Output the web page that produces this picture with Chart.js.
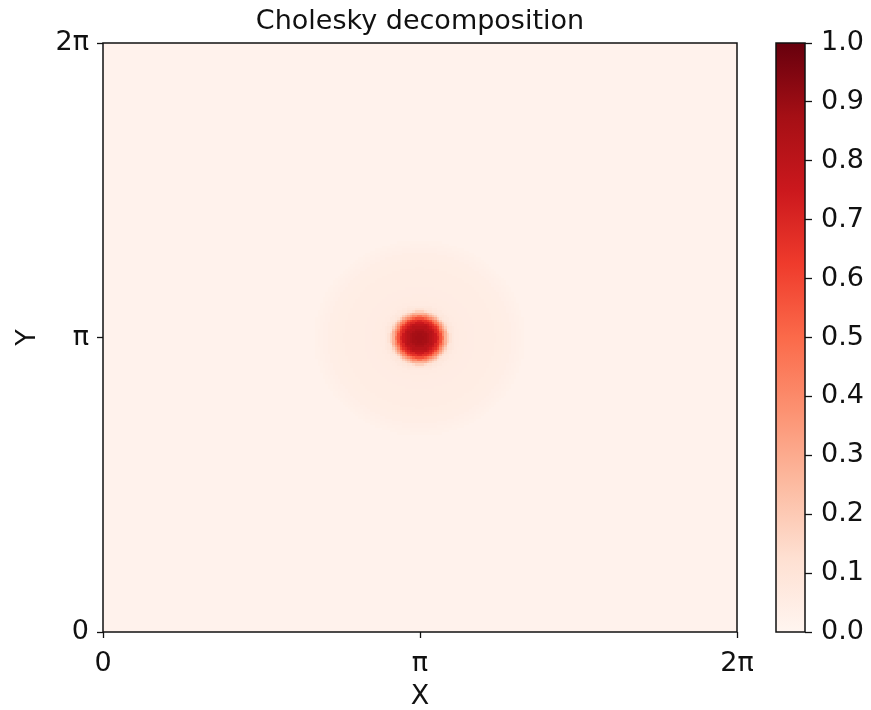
<!DOCTYPE html>
<html>
<head>
<meta charset="utf-8">
<script src="https://cdn.jsdelivr.net/npm/chart.js@4.4.1/dist/chart.umd.min.js"></script>
<style>
  html, body { margin: 0; padding: 0; background: #fff; }
  #wrap { position: relative; width: 871px; height: 710px; }
  #heatChart { position: absolute; left: 0; top: 0; }
  #barChart { position: absolute; left: 770px; top: 0; }
</style>
</head>
<body>
<div id="wrap">
  <canvas id="heatChart" width="871" height="710"></canvas>
  <canvas id="barChart" width="101" height="710"></canvas>
</div>
<script>
const TWO_PI = 2 * Math.PI;

// axis ticks (both axes run 0..2π)
const axisTicks = [0, Math.PI, TWO_PI];
const axisTickLabels = ['0', 'π', '2π'];

// peak location and its radial profile (distance in rad -> value)
const peakCentre = [Math.PI, Math.PI];
const profileRadii = [0, 0.03, 0.06, 0.09, 0.12, 0.14, 0.16, 0.18, 0.19, 0.20, 0.21, 0.22, 0.23, 0.24, 0.25,
  0.26, 0.27, 0.28, 0.29, 0.30, 0.32, 0.34, 0.37, 0.42, 0.50, 0.60, 0.70, 0.80, 0.88, 0.94, 0.98, 1.02, 1.06, 1.12];
const profileValues = [0.88, 0.88, 0.87, 0.85, 0.82, 0.79, 0.75, 0.70, 0.66, 0.62, 0.57, 0.52, 0.46, 0.40, 0.34,
  0.28, 0.23, 0.18, 0.14, 0.11, 0.085, 0.07, 0.06, 0.055, 0.052, 0.05, 0.048, 0.044, 0.04, 0.035, 0.029, 0.023, 0.018, 0.015];

// colour bar ticks
const barTicks = [0, 0.1, 0.2, 0.3, 0.4, 0.5, 0.6, 0.7, 0.8, 0.9, 1.0];

const gridSize = 256;

// matplotlib "Reds"
const redsStops = ['#fff5f0', '#fee0d2', '#fcbba1', '#fc9272', '#fb6a4a', '#ef3b2c', '#cb181d', '#a50f15', '#67000d'];

const textColor = '#111';
const fontFamily = "'DejaVu Sans', sans-serif";

function hexToRgb(h) {
  return [parseInt(h.slice(1, 3), 16), parseInt(h.slice(3, 5), 16), parseInt(h.slice(5, 7), 16)];
}
const redsRgb = redsStops.map(hexToRgb);

function reds(v) {
  const t = Math.min(1, Math.max(0, v)) * (redsRgb.length - 1);
  const i = Math.min(redsRgb.length - 2, Math.floor(t));
  const f = t - i;
  const a = redsRgb[i], b = redsRgb[i + 1];
  return 'rgb(' + [0, 1, 2].map(k => Math.round(a[k] + (b[k] - a[k]) * f)).join(',') + ')';
}

// one colour per profile entry
const profileColours = profileValues.map(reds);

function profileIndex(r) {
  let best = 0;
  for (let k = 1; k < profileRadii.length; k++) {
    if (Math.abs(profileRadii[k] - r) < Math.abs(profileRadii[best] - r)) best = k;
  }
  return best;
}

// grid cells
const step = TWO_PI / gridSize;
const cells = [];
for (let i = 0; i < gridSize; i++) {
  for (let j = 0; j < gridSize; j++) {
    const cx = (i + 0.5) * step, cy = (j + 0.5) * step;
    const r = Math.hypot(cx - peakCentre[0], cy - peakCentre[1]);
    cells.push({ x0: i * step, x1: (i + 1) * step, y0: j * step, y1: (j + 1) * step, k: profileIndex(r) });
  }
}

const heatCells = {
  id: 'heatCells',
  beforeDatasetsDraw(chart) {
    const { ctx, scales: { x, y } } = chart;
    ctx.save();
    cells.forEach(c => {
      const px0 = Math.floor(x.getPixelForValue(c.x0));
      const px1 = Math.ceil(x.getPixelForValue(c.x1));
      const py0 = Math.ceil(y.getPixelForValue(c.y0));
      const py1 = Math.floor(y.getPixelForValue(c.y1));
      ctx.fillStyle = profileColours[c.k];
      ctx.fillRect(px0, py1, px1 - px0, py0 - py1);
    });
    ctx.restore();
  }
};

const frame = {
  id: 'frame',
  afterDraw(chart) {
    const { ctx, chartArea: a } = chart;
    ctx.save();
    ctx.strokeStyle = textColor;
    ctx.lineWidth = 1.5;
    ctx.strokeRect(a.left, a.top, a.right - a.left, a.bottom - a.top);
    ctx.restore();
  }
};

const tickFont = { family: fontFamily, size: 27 };

new Chart(document.getElementById('heatChart'), {
  type: 'scatter',
  data: { datasets: [{ data: [], pointRadius: 0 }] },
  options: {
    responsive: false,
    animation: false,
    devicePixelRatio: 1,
    layout: { padding: { left: 0, right: 134, top: 0, bottom: 0 } },
    plugins: {
      legend: { display: false },
      tooltip: { enabled: false },
      title: {
        display: true,
        text: 'Cholesky decomposition',
        fullSize: false,
        color: textColor,
        font: { family: fontFamily, size: 27, weight: 'normal', lineHeight: 1 },
        padding: { top: 8, bottom: 8 }
      }
    },
    scales: {
      x: {
        type: 'linear', min: 0, max: TWO_PI,
        afterBuildTicks: s => { s.ticks = axisTicks.map(v => ({ value: v })); },
        afterFit: s => { s.height = 78; },
        ticks: { callback: (v, i) => axisTickLabels[i], color: textColor, font: tickFont, padding: 10, maxRotation: 0, autoSkip: false },
        grid: { drawOnChartArea: false, tickLength: 6, tickColor: textColor, tickWidth: 1.3 },
        border: { display: false },
        title: { display: true, text: 'X', color: textColor, font: { family: fontFamily, size: 27, lineHeight: 1 }, padding: { top: 0, bottom: 0 } }
      },
      y: {
        type: 'linear', min: 0, max: TWO_PI,
        afterBuildTicks: s => { s.ticks = axisTicks.map(v => ({ value: v })); },
        afterFit: s => { s.width = 103; },
        ticks: { callback: (v, i) => axisTickLabels[i], color: textColor, font: tickFont, padding: 8, autoSkip: false },
        grid: { drawOnChartArea: false, tickLength: 6, tickColor: textColor, tickWidth: 1.3 },
        border: { display: false },
        title: { display: true, text: 'Y', color: textColor, font: { family: fontFamily, size: 27, lineHeight: 1 }, padding: { top: 14, bottom: 0 } }
      }
    }
  },
  plugins: [heatCells, frame]
});

// colour bar: gradient laid out along its own value scale
const colourStrip = {
  id: 'colourStrip',
  beforeDatasetsDraw(chart) {
    const { ctx, chartArea: a, scales: { y } } = chart;
    const g = ctx.createLinearGradient(0, y.getPixelForValue(0), 0, y.getPixelForValue(1));
    redsStops.forEach((c, i) => g.addColorStop(i / (redsStops.length - 1), c));
    ctx.save();
    ctx.fillStyle = g;
    ctx.fillRect(a.left, a.top, a.right - a.left, a.bottom - a.top);
    ctx.restore();
  }
};

new Chart(document.getElementById('barChart'), {
  type: 'scatter',
  data: { datasets: [{ data: [], pointRadius: 0 }] },
  options: {
    responsive: false,
    animation: false,
    devicePixelRatio: 1,
    layout: { padding: { left: 6, right: 0, top: 43, bottom: 78 } },
    plugins: { legend: { display: false }, tooltip: { enabled: false } },
    scales: {
      x: { type: 'linear', display: false, min: 0, max: 1 },
      y: {
        type: 'linear', position: 'right', min: 0, max: 1,
        afterBuildTicks: s => { s.ticks = barTicks.map(v => ({ value: v })); },
        afterFit: s => { s.width = 66; },
        ticks: { callback: v => v.toFixed(1), color: textColor, font: tickFont, padding: 9, autoSkip: false },
        grid: { drawOnChartArea: false, tickLength: 7, tickColor: textColor, tickWidth: 1.3 },
        border: { display: false }
      }
    }
  },
  plugins: [colourStrip, frame]
});
</script>
</body>
</html>
